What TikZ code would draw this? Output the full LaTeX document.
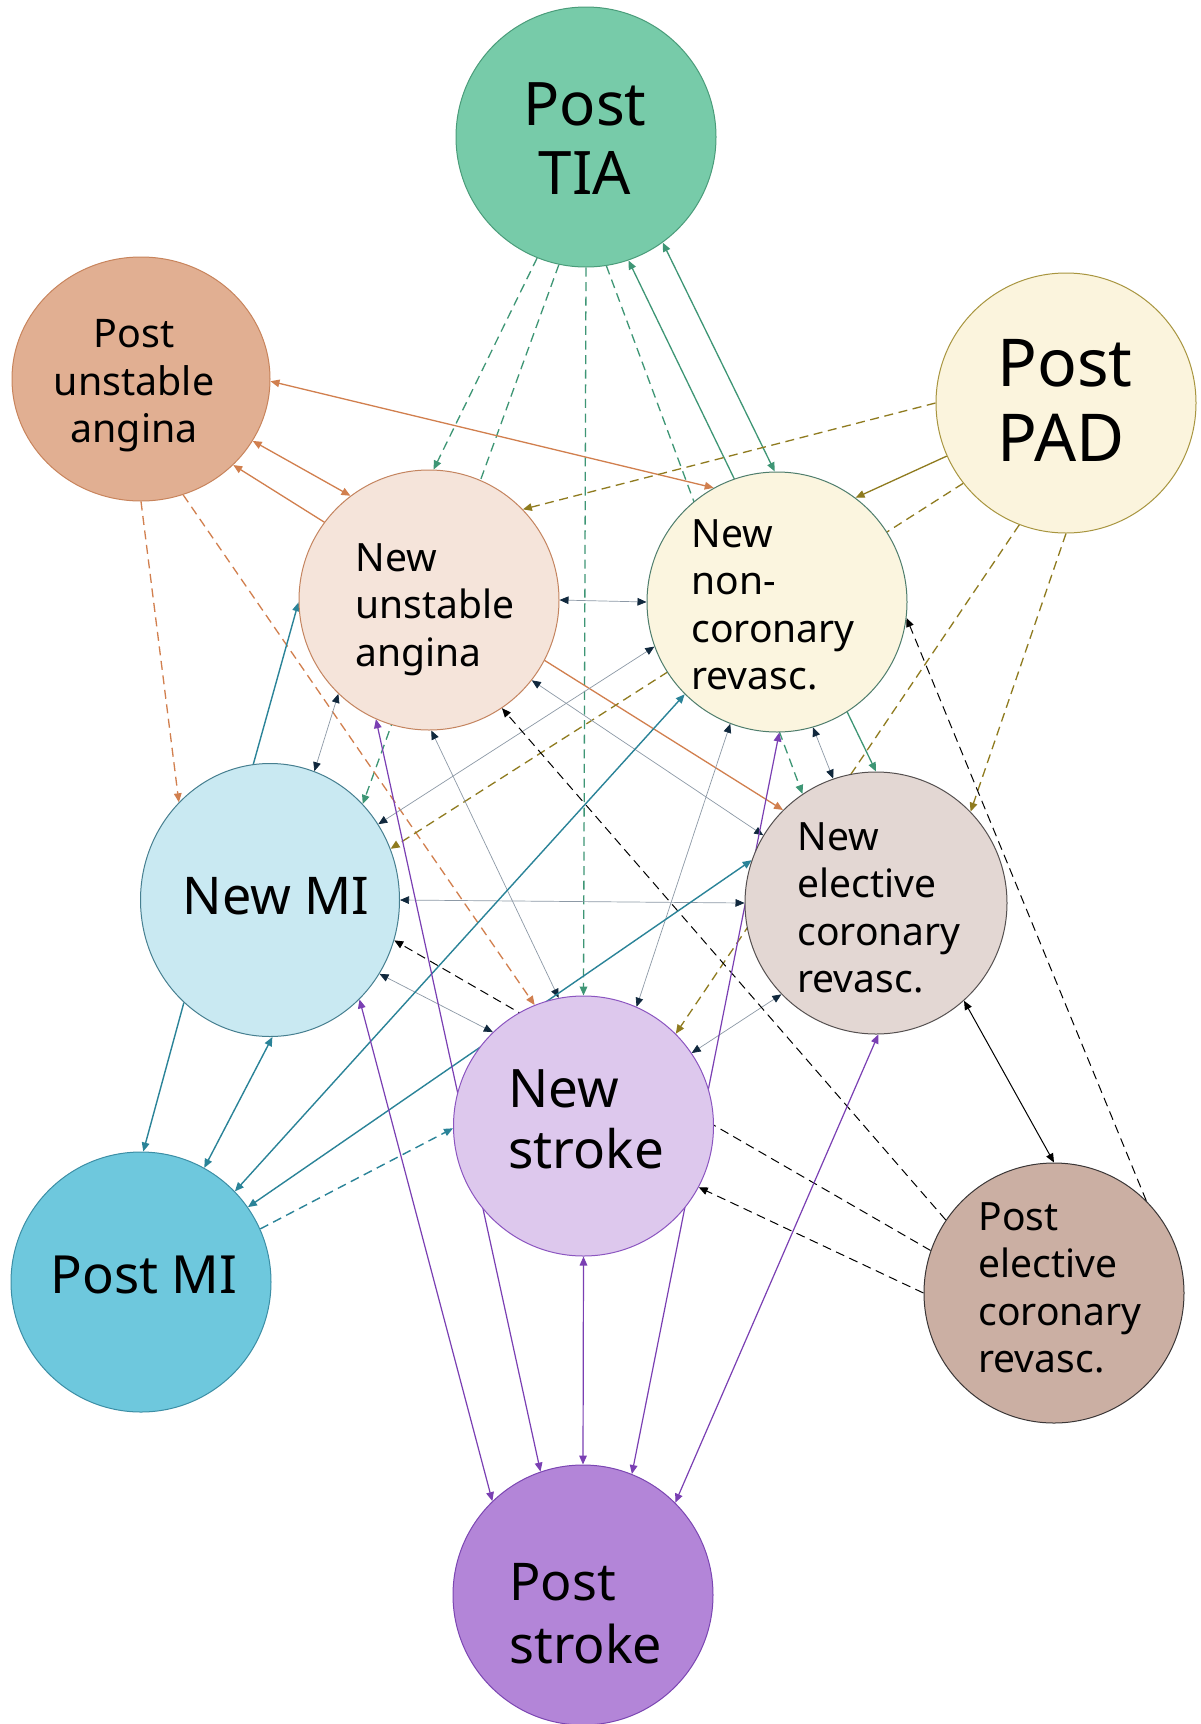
\documentclass[tikz,border=0pt]{standalone}
\usepackage{fontspec}
\setmainfont{Noto Sans}
\usetikzlibrary{arrows.meta,shapes.geometric}
\pgfdeclarelayer{bg}
\pgfdeclarelayer{edges}
\pgfsetlayers{bg,edges,main}
\definecolor{tiaF}{HTML}{77CBA9}\definecolor{tiaD}{HTML}{4A9C7A}
\definecolor{puaF}{HTML}{E1AF92}\definecolor{puaD}{HTML}{C8845C}
\definecolor{padF}{HTML}{FBF4DD}\definecolor{padD}{HTML}{A8953F}
\definecolor{nuaF}{HTML}{F5E4DA}\definecolor{nuaD}{HTML}{C4845F}
\definecolor{nncF}{HTML}{FBF5DF}\definecolor{nncD}{HTML}{4E7D6C}
\definecolor{nmiF}{HTML}{C9E9F2}\definecolor{nmiD}{HTML}{467F90}
\definecolor{neF}{HTML}{E3D7D3}\definecolor{neD}{HTML}{555050}
\definecolor{nsF}{HTML}{DDC8ED}\definecolor{nsD}{HTML}{8B55C0}
\definecolor{pmiF}{HTML}{6EC8DD}\definecolor{pmiD}{HTML}{3C8EA5}
\definecolor{peF}{HTML}{CBAFA3}\definecolor{peD}{HTML}{3A3636}
\definecolor{psF}{HTML}{B385D8}\definecolor{psD}{HTML}{7B46B2}
\definecolor{grnE}{HTML}{3E9675}
\definecolor{orgE}{HTML}{D17F4E}
\definecolor{olvE}{HTML}{8F7B1F}
\definecolor{tealE}{HTML}{2A8398}
\definecolor{purE}{HTML}{7A3FB3}
\definecolor{greyL}{HTML}{8D99A6}
\definecolor{navyH}{HTML}{10283D}
\tikzset{
  state/.style={circle, minimum size=130pt, inner sep=0pt, line width=0.5pt},
  oval/.style={ellipse, inner sep=0pt, line width=0.5pt},
  lbl/.style={inner sep=0pt, align=left},
  lblc/.style={inner sep=0pt, align=center},
  small/.style={font=\fontsize{19.5pt}{23.75pt}\selectfont},
  dsh/.style={dash pattern=on 4.5pt off 2.8pt},
  grn/.style={draw=grnE, line width=0.65pt},
  org/.style={draw=orgE, line width=0.65pt},
  olv/.style={draw=olvE, line width=0.65pt},
  tea/.style={draw=tealE, line width=0.7pt},
  pur/.style={draw=purE, line width=0.6pt},
  blk/.style={draw=black, line width=0.5pt},
  gry/.style={draw=greyL, line width=0.35pt, >={Triangle[length=4.5pt,width=3.8pt,color=navyH]}, <->},
}
\begin{document}
\begin{tikzpicture}[x=0.5pt, y=-0.5pt, >={Triangle[length=4.5pt,width=3.8pt]}]
\useasboundingbox (0,0) rectangle (1200,1724);
\begin{pgfonlayer}{bg}
\fill[white] (0,0) rectangle (1200,1724);
\end{pgfonlayer}

% states
\node[state, fill=tiaF, draw=tiaD] (tia) at (586,137) {};
\node[oval, minimum width=129pt, minimum height=122pt, fill=puaF, draw=puaD] (pua) at (141,379) {};
\node[state, fill=padF, draw=padD] (pad) at (1066,403) {};
\node[state, fill=nuaF, draw=nuaD] (nua) at (429,600) {};
\node[state, fill=nncF, draw=nncD] (nnc) at (777,602) {};
\node[oval, minimum width=129.5pt, minimum height=136.5pt, fill=nmiF, draw=nmiD] (nmi) at (270,900) {};
\node[state, minimum size=131pt, fill=neF, draw=neD] (ne) at (876,903) {};
\node[state, fill=nsF, draw=nsD] (ns) at (583.5,1126) {};
\node[state, fill=pmiF, draw=pmiD] (pmi) at (141,1282) {};
\node[state, fill=peF, draw=peD] (pe) at (1054,1293) {};
\node[state, fill=psF, draw=psD] (ps) at (583,1595) {};

% labels
\node[lblc, anchor=north, font=\fontsize{30pt}{34.5pt}\selectfont] (tia-t) at (585,82) {Post\\TIA};
\node[lblc, anchor=north, font=\fontsize{19.7pt}{23.75pt}\selectfont] (pua-t) at (134,319) {Post\\unstable\\angina};
\node[lbl, anchor=north west, font=\fontsize{33pt}{37.5pt}\selectfont] (pad-t) at (997,339) {Post\\PAD};
\node[lbl, small, anchor=north west] (nua-t) at (355,543) {New\\unstable\\angina};
\node[lbl, small, anchor=north west] (nnc-t) at (691,519) {New\\non-\\coronary\\revasc.};
\node[lbl, anchor=north, font=\fontsize{26pt}{30pt}\selectfont] (nmi-t) at (276,877) {New MI};
\node[lbl, small, anchor=north west] (ne-t) at (797,822) {New\\elective\\coronary\\revasc.};
\node[lbl, anchor=north west, font=\fontsize{26.5pt}{30.5pt}\selectfont] (ns-t) at (508,1069) {New\\stroke};
\node[lbl, anchor=north, font=\fontsize{26.3pt}{32pt}\selectfont] (pmi-t) at (144,1256) {Post MI};
\node[lbl, small, anchor=north west] (pe-t) at (978,1202) {Post\\elective\\coronary\\revasc.};
\node[lbl, anchor=north west, font=\fontsize{26pt}{31.5pt}\selectfont] (ps-t) at (509,1563) {Post\\stroke};

\begin{pgfonlayer}{edges}
% Post TIA (green)
\draw[grn, dsh, ->] (tia.248.5) -- (nua.88.7);
\draw[grn, dsh, ->] (tia.258) -- (nmi.46);
\draw[grn, dsh, ->] (tia.270) -- (ns.90);
\draw[grn, dsh, ->] (tia.279.5) -- (ne.124.7);
\draw[grn, <->] (tia.289.8) -- (ne.90.4);
\draw[grn, <->] (tia.306) -- (nnc.91);
% Post unstable angina (orange)
\draw[org, <->] (pua.359) -- (nnc.119.4);
\draw[org, <->] (pua.331) -- (nua.127);
\draw[org, <->] (pua.317.2) -- (ne.135.3);
\draw[org, dsh, ->] (pua.270) -- (nmi.133.5);
\draw[org, dsh, ->] (pua.290.6) -- (ns.112);
% Post PAD (olive)
\draw[olv, dsh, ->] (pad.180) -- (nua.44.4);
\draw[olv, ->] (pad.204.4) -- (nnc.53.1);
\draw[olv, dsh, ->] (pad.218.2) -- (nmi.23.4);
\draw[olv, dsh, ->] (pad.249.4) -- (ns.45.8);
\draw[olv, dsh, ->] (pad.270) -- (ne.44.4);
% grey two-way links
\draw[gry] (nua.0) -- (nnc.180);
\draw[gry] (nua.226.8) -- (nmi.71.6);
\draw[gry] (nnc.200.7) -- (nmi.35.7);
\draw[gry] (nua.322.6) -- (ne.149.3);
\draw[gry] (nua.271.3) -- (ns.101);
\draw[gry] (nnc.249) -- (ns.66.3);
\draw[gry] (nnc.286.2) -- (ne.109.1);
\draw[gry] (nmi.0) -- (ne.180);
\draw[gry] (nmi.326.4) -- (ns.134.8);
\draw[gry] (ns.34.8) -- (ne.224.1);
% Post elective coronary revasc. (black)
\draw[blk, dsh, ->] (pe.45.9) -- (nnc.353.9);
\draw[blk, dsh, ->] (pe.146.9) -- (nua.304.4);
\draw[blk, dsh, ->] (pe.161.7) -- (nmi.342.5);
\draw[blk, dsh, ->] (pe.180) -- (ns.332.8);
\draw[blk, <->] (ne.312.5) -- (pe.90);
% MI (teal)
\draw[tea, ->] (nmi.97.1) -- (nua.181.3);
\draw[tea, ->] (nmi.230.1) -- (pmi.89);
\draw[tea, <->] (nmi.271.2) -- (pmi.61.7);
\draw[tea, <->] (nnc.225.6) -- (pmi.44.7);
\draw[tea, <->] (ne.161.4) -- (pmi.35);
\draw[tea, dsh, ->] (pmi.24.8) -- (ns.181);
% stroke (purple)
\draw[pur, <->] (ns.270) -- (ps.90);
\draw[pur, <->] (nmi.312) -- (ps.134.7);
\draw[pur, <->] (nua.246.5) -- (ps.109.8);
\draw[pur, <->] (nnc.271) -- (ps.68.6);
\draw[pur, <->] (ne.271.3) -- (ps.45);
\end{pgfonlayer}
\end{tikzpicture}
\end{document}
